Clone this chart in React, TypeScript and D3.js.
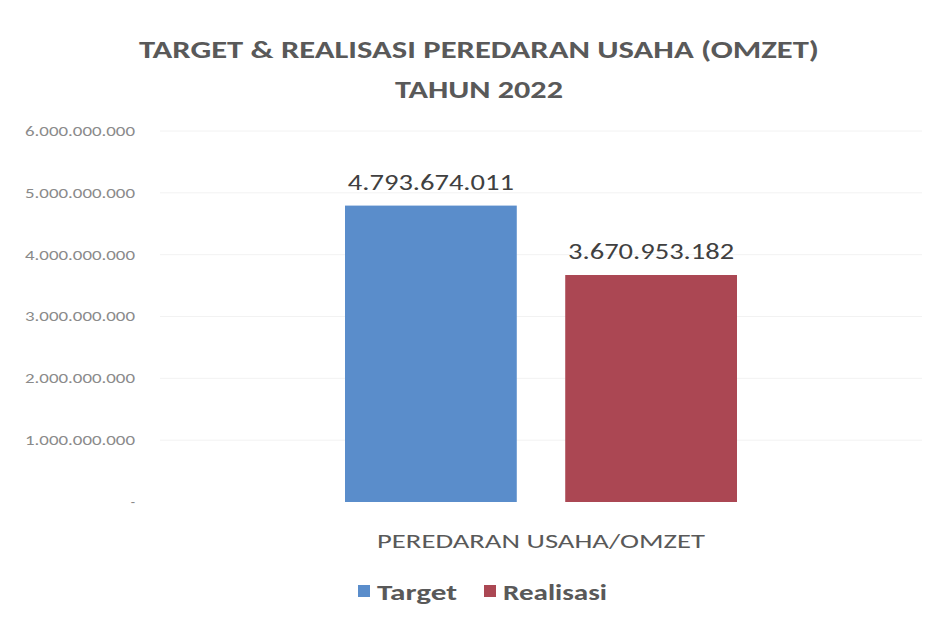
import React, { useEffect, useRef } from 'react';
import * as d3 from 'd3';

const seriesNames = ['Target', 'Realisasi'];
const seriesValues = [4793674011, 3670953182];
const seriesColors = ['#5a8dcb', '#ab4753'];
const category = 'PEREDARAN USAHA/OMZET';
const yTicks = [0, 1000000000, 2000000000, 3000000000, 4000000000, 5000000000, 6000000000];
const titleLines = ['TARGET & REALISASI PEREDARAN USAHA (OMZET)', 'TAHUN 2022'];

const fmt = (v: number) => (v === 0 ? '-' : d3.format(',')(v).replace(/,/g, '.'));

function App() {
  const svgRef = useRef<SVGSVGElement>(null);

  useEffect(() => {
    const svg = d3.select(svgRef.current);
    svg.selectAll('*').remove();

    const font = "Carlito, Calibri, 'Open Sans', sans-serif";
    const left = 160, right = 922, top = 131, bottom = 502;

    svg.append('rect').attr('width', 925).attr('height', 625).attr('fill', '#fff');

    // title
    svg.selectAll('text.title')
      .data(titleLines)
      .enter()
      .append('text')
      .attr('class', 'title')
      .attr('x', 479)
      .attr('y', (d, i) => 58 + i * 40)
      .attr('text-anchor', 'middle')
      .attr('font-family', font)
      .attr('font-weight', 'bold')
      .attr('font-size', 25)
      .attr('fill', '#595959')
      .attr('textLength', (d, i) => (i === 0 ? 680 : 168))
      .attr('lengthAdjust', 'spacingAndGlyphs')
      .text((d) => d);

    const y = d3.scaleLinear().domain([0, 6000000000]).range([bottom, top]);
    const x0 = d3.scaleBand().domain([category]).range([left, right]).padding(0);
    const x1 = d3.scaleBand().domain(seriesNames).range([345 - left, 737 - left]).paddingInner(0.22);

    // gridlines
    svg.append('g')
      .selectAll('line')
      .data(yTicks.slice(1))
      .enter()
      .append('line')
      .attr('x1', left)
      .attr('x2', right)
      .attr('y1', (d) => y(d))
      .attr('y2', (d) => y(d))
      .attr('stroke', '#f2f2f2')
      .attr('stroke-width', 1);

    // y axis labels
    const yAxis = svg.append('g')
      .attr('transform', `translate(138,0)`)
      .call(d3.axisLeft(y).tickValues(yTicks).tickSize(0).tickFormat((d) => fmt(+d)));
    yAxis.select('.domain').remove();
    yAxis.selectAll('text')
      .attr('font-family', font)
      .attr('font-size', 14)
      .attr('fill', '#8a8a8a')
      .attr('textLength', (d) => (+d === 0 ? null : 110))
      .attr('lengthAdjust', 'spacingAndGlyphs');

    const g = svg.append('g').attr('transform', `translate(${x0(category)},0)`);

    g.selectAll('rect')
      .data(seriesValues)
      .enter()
      .append('rect')
      .attr('x', (d, i) => x1(seriesNames[i])!)
      .attr('y', (d) => y(d))
      .attr('width', x1.bandwidth())
      .attr('height', (d) => bottom - y(d))
      .attr('fill', (d, i) => seriesColors[i]);

    g.selectAll('text.val')
      .data(seriesValues)
      .enter()
      .append('text')
      .attr('class', 'val')
      .attr('x', (d, i) => x1(seriesNames[i])! + x1.bandwidth() / 2)
      .attr('y', (d) => y(d) - 16)
      .attr('text-anchor', 'middle')
      .attr('font-family', font)
      .attr('font-size', 23)
      .attr('fill', '#404040')
      .attr('textLength', 166)
      .attr('lengthAdjust', 'spacingAndGlyphs')
      .text((d) => fmt(d));

    // category label
    svg.append('text')
      .attr('x', x0(category)! + x0.bandwidth() / 2)
      .attr('y', 548)
      .attr('text-anchor', 'middle')
      .attr('font-family', font)
      .attr('font-size', 21)
      .attr('fill', '#595959')
      .attr('textLength', 328)
      .attr('lengthAdjust', 'spacingAndGlyphs')
      .text(category);

    // legend
    const legendX = [358, 484];
    const legendW = [80, 104];
    const lg = svg.append('g');
    seriesNames.forEach((name, i) => {
      lg.append('rect')
        .attr('x', legendX[i])
        .attr('y', 585)
        .attr('width', 12)
        .attr('height', 12)
        .attr('fill', seriesColors[i]);
      lg.append('text')
        .attr('x', legendX[i] + 19)
        .attr('y', 600)
        .attr('font-family', font)
        .attr('font-weight', 'bold')
        .attr('font-size', 22)
        .attr('fill', '#595959')
        .attr('textLength', legendW[i])
        .attr('lengthAdjust', 'spacingAndGlyphs')
        .text(name);
    });
  }, []);

  return <svg ref={svgRef} width={925} height={625} style={{ position: 'absolute', left: 0, top: 0 }} />;
}

export default App;
